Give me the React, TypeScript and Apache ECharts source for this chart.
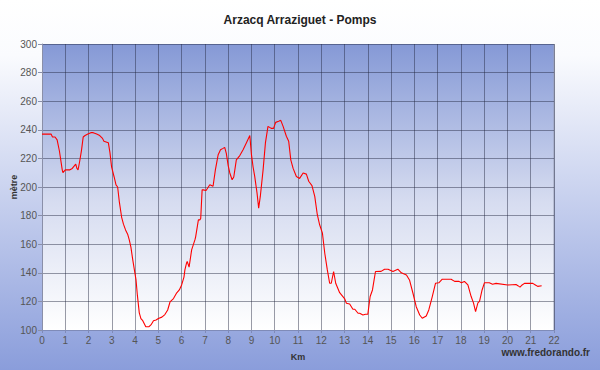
import React, { useEffect, useRef } from "react";
import * as echarts from "echarts";

const title = "Arzacq Arraziguet - Pomps";
const xName = "Km";
const yName = "mètre";
const credit = "www.fredorando.fr";

const distanceKm = [
  0, 0.2, 0.39, 0.45, 0.56, 0.65, 0.75, 0.87, 0.9, 1.0, 1.2, 1.3, 1.45, 1.5, 1.55, 1.62, 1.7, 1.77, 1.85, 1.97, 2.1, 2.2, 2.35, 2.48, 2.6, 2.66, 2.85,
  2.92, 2.99, 3.1, 3.18, 3.25, 3.32, 3.42, 3.5, 3.59, 3.68, 3.75, 3.82, 3.9, 3.97, 4.04, 4.1, 4.18, 4.25, 4.33, 4.46, 4.6, 4.7, 4.79, 4.9, 5.0, 5.15, 5.28,
  5.4, 5.5, 5.65, 5.79, 5.9, 6.0, 6.1, 6.14, 6.21, 6.24, 6.32, 6.43, 6.57, 6.6, 6.72, 6.78, 6.82, 6.88, 6.93, 7.05, 7.21, 7.35, 7.45, 7.57, 7.67, 7.78,
  7.85, 7.92, 8.0, 8.07, 8.17, 8.24, 8.35, 8.5, 8.64, 8.78, 8.93, 9.0, 9.07, 9.14, 9.24, 9.31, 9.38, 9.5, 9.6, 9.71, 9.85, 9.95, 10.04, 10.17, 10.26,
  10.36, 10.5, 10.6, 10.69, 10.79, 10.93, 11.07, 11.22, 11.36, 11.46, 11.6, 11.72, 11.83, 11.93, 12.05, 12.15, 12.26, 12.36, 12.43, 12.53, 12.62, 12.79,
  13.0, 13.08, 13.22, 13.36, 13.44, 13.58, 13.65, 13.79, 13.9, 14.0, 14.1, 14.2, 14.27, 14.33, 14.57, 14.72, 14.87, 15.08, 15.29, 15.44, 15.66, 15.79,
  15.94, 16.08, 16.23, 16.34, 16.51, 16.62, 16.77, 16.91, 17.05, 17.2, 17.58, 17.73, 17.92, 18.02, 18.15, 18.3, 18.44, 18.54, 18.63, 18.73, 18.8, 18.91,
  19.01, 19.22, 19.36, 19.51, 20.01, 20.37, 20.45, 20.54, 20.63, 20.73, 21.09, 21.2, 21.3, 21.47
];

const elevationM = [
  237, 237, 237, 235, 235, 233, 225, 212, 210, 212, 212, 213, 216, 213, 212, 218, 226, 235, 236, 237, 238, 238, 237, 236, 234, 232, 231,
  224, 214, 207, 201.5, 200, 190, 179, 174, 170, 167, 163, 158, 149, 142, 135, 124, 112, 108, 106.5, 102.3, 102.3, 104, 106.5, 107, 108, 109, 110.8,
  114, 119.6, 122, 126, 128, 131.5, 137, 142, 146.7, 148, 144, 156, 163, 165, 177, 177, 178, 198, 198, 197.5, 201.6, 200.5, 212, 222.6, 226, 227,
  227.7, 223.5, 215, 209.8, 205, 207, 219, 222, 226, 230.8, 236, 222.6, 214, 207.4, 195.7, 185.2, 193.4, 212, 230.8, 242.4, 241, 241, 245.2, 246, 246.6,
  242.4, 235.5, 232, 219, 213, 207.4, 206, 209.8, 209, 204, 201, 193.4, 180.6, 173.6, 167.7, 153.7, 142, 132.7, 132.7, 140.9, 132.7, 126.1,
  122, 118.7, 118.2, 114.5, 114.5, 111.7, 111.7, 110.5, 111, 111, 123.4, 128, 135, 140.9, 141, 142.5, 142.5, 140.9, 142.5, 140, 138.5, 135,
  125.7, 116.3, 110.5, 108.2, 109.8, 114, 123.4, 132.7, 133, 135.5, 135.5, 134, 134, 133, 134, 131.5, 123.4, 119, 112.8, 119, 120, 128,
  133, 133, 132, 132.6, 131.5, 131.8, 131, 130, 131.5, 132.6, 132.6, 131.5, 130.5, 131
];

const xTicks = { min: 0, max: 22, step: 1 };
const yTicks = { min: 100, max: 300, step: 20 };

export default function App() {
  const ref = useRef<HTMLDivElement>(null);
  useEffect(() => {
    document.body.style.margin = "0";
    const chart = echarts.init(ref.current!, null, { renderer: "svg" });
    const data = distanceKm.map((d, i) => [d, elevationM[i]]);
    chart.setOption({
      animation: false,
      backgroundColor: {
        type: "linear", x: 0, y: 0, x2: 0, y2: 1,
        colorStops: [
          { offset: 0, color: "#ffffff" },
          { offset: 0.15, color: "#fafbfe" },
          { offset: 1, color: "#8a9ddb" }
        ]
      },
      title: {
        text: title,
        left: "center",
        top: 9,
        textStyle: { fontFamily: "Liberation Sans", fontSize: 12, fontWeight: "bold", color: "#222" }
      },
      grid: {
        left: 42, right: 46, top: 44, bottom: 40,
        outerBoundsMode: "none",
        containLabel: false,
        show: true,
        borderWidth: 0,
        backgroundColor: {
          type: "linear", x: 0, y: 0, x2: 0, y2: 1,
          colorStops: [
            { offset: 0, color: "#8599d6" },
            { offset: 0.55, color: "#d6dcf0" },
            { offset: 1, color: "#ffffff" }
          ]
        }
      },
      xAxis: {
        type: "value",
        min: xTicks.min, max: xTicks.max, interval: xTicks.step,
        name: xName,
        nameLocation: "middle",
        nameGap: 22,
        nameMoveOverlap: false,
        nameTextStyle: { fontFamily: "Liberation Sans", fontSize: 9, fontWeight: "bold", color: "#333" },
        axisLine: { show: true, lineStyle: { color: "#7f8bb8", width: 1 } },
        axisTick: { show: true, length: 3, lineStyle: { color: "#7f8bb8" } },
        axisLabel: { fontFamily: "Liberation Sans", fontSize: 10, color: "#555", margin: 5 },
        splitLine: { show: true, lineStyle: { color: "rgba(30,35,60,0.45)", width: 1 } }
      },
      yAxis: {
        type: "value",
        min: yTicks.min, max: yTicks.max, interval: yTicks.step,
        name: yName,
        nameLocation: "middle",
        nameRotate: 90,
        nameGap: 24,
        nameMoveOverlap: false,
        nameTextStyle: { fontFamily: "Liberation Sans", fontSize: 9, fontWeight: "bold", color: "#333" },
        axisLine: { show: true, lineStyle: { color: "#8a8fa8", width: 1 } },
        axisTick: { show: true, length: 4, lineStyle: { color: "#8a8fa8" } },
        axisLabel: { fontFamily: "Liberation Sans", fontSize: 10, color: "#555", margin: 5 },
        splitLine: { show: true, lineStyle: { color: "rgba(30,35,60,0.45)", width: 1 } }
      },
      graphic: [
        {
          type: "line",
          shape: { x1: 554, y1: 44, x2: 554, y2: 330 },
          style: { stroke: "#9aa0b8", lineWidth: 1 }
        },
        {
          type: "text",
          right: 10,
          top: 347,
          style: { text: credit, fontFamily: "Liberation Sans", fontSize: 10, fontWeight: "bold", fill: "#333" }
        }
      ],
      series: [
        {
          type: "line",
          data,
          showSymbol: false,
          symbol: "none",
          lineStyle: { color: "#ff0000", width: 1.1 }
        }
      ]
    });
    return () => chart.dispose();
  }, []);
  return <div ref={ref} style={{ width: 600, height: 370 }} />;
}
